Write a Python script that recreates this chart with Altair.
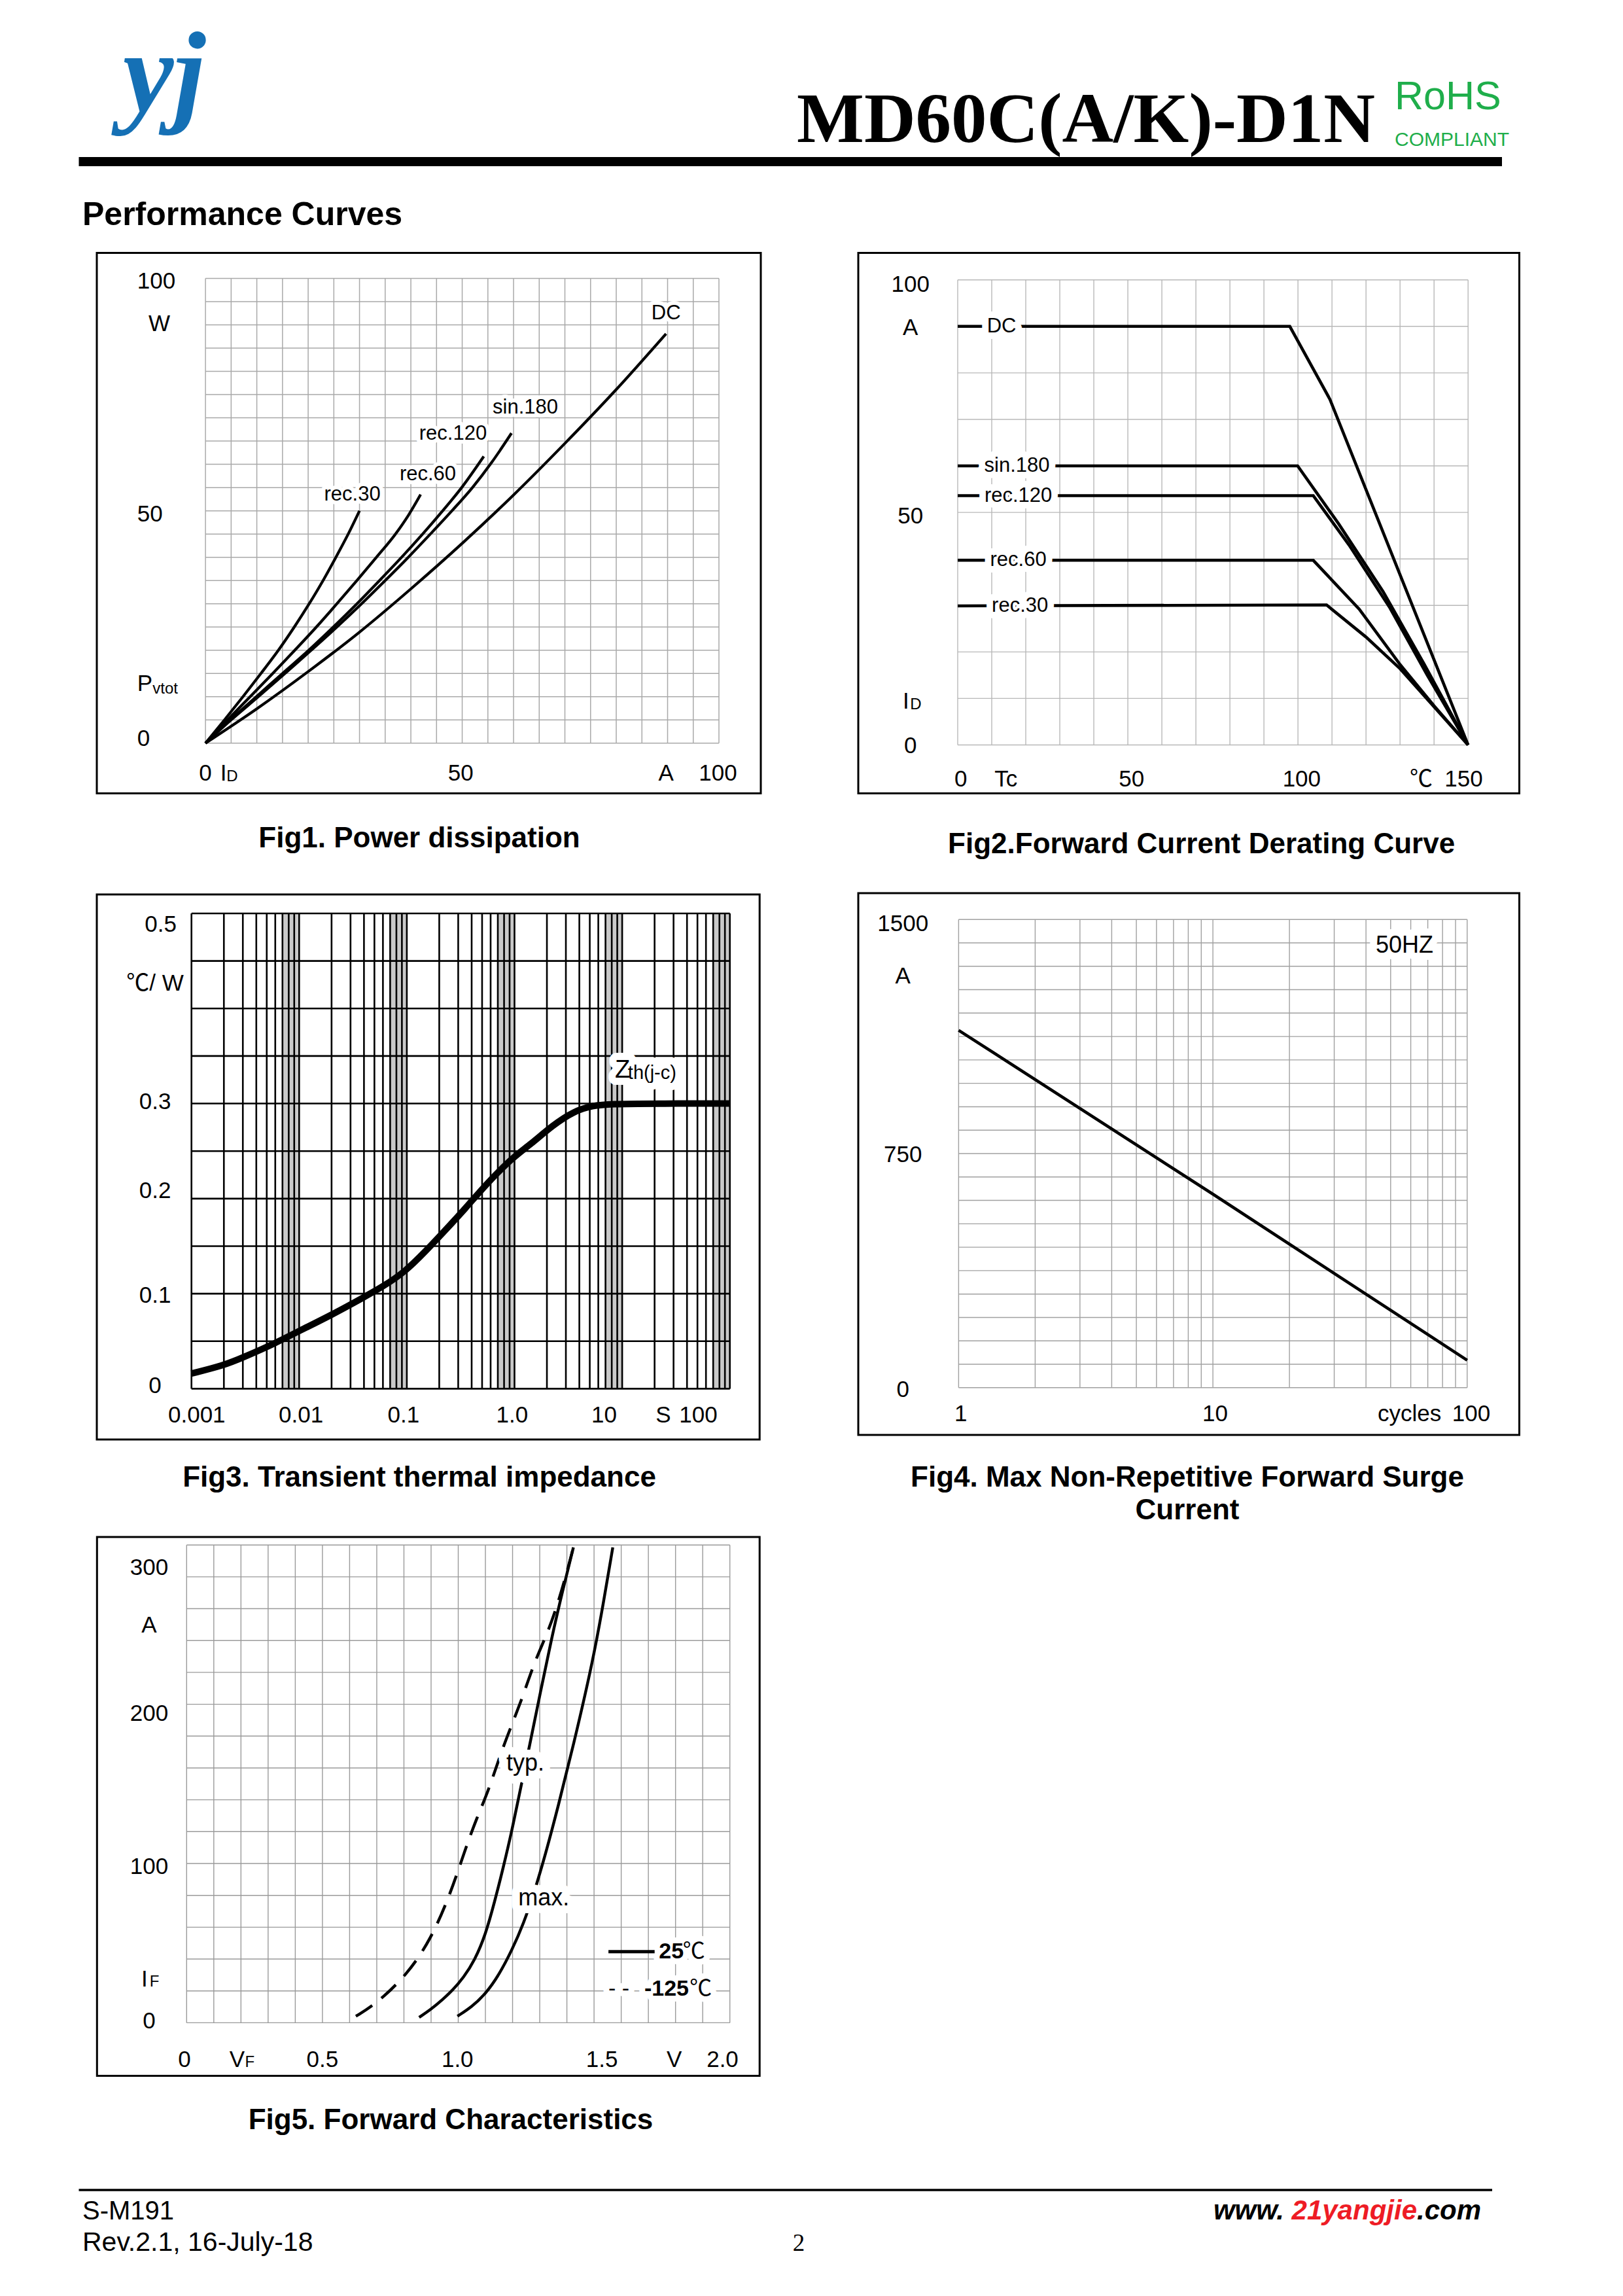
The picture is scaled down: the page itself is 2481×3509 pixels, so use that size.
import math
import altair as alt
import pandas as pd

SANS = "Liberation Sans, Noto Sans CJK SC, DejaVu Sans"
SERIF = "Liberation Serif"

# ---------------- Fig1: Power dissipation  (I_D [A] -> P_vtot [W]) ----------------
f1_dc_i = [0, 10, 20, 30, 40, 50, 60, 70, 80, 89.7]
f1_dc_p = [0, 7.4, 15.4, 23.9, 33.2, 43.0, 53.4, 64.5, 76.1, 88.1]
f1_sin180_i = [0, 5.0, 10.3, 15.5, 20.6, 25.6, 30.4, 35.0, 39.5, 43.8, 48.0, 52.0, 55.8, 59.6]
f1_sin180_p = [0, 5, 10, 15, 20, 25, 30, 35, 40, 45, 50, 55, 60.5, 66.7]
f1_rec120_i = [0, 4.8, 9.9, 15.0, 20.1, 24.9, 29.5, 33.9, 38.2, 42.3, 46.2, 49.9, 54.2]
f1_rec120_p = [0, 5, 10, 15, 20, 25, 30, 35, 40, 45, 50, 55, 61.7]
f1_rec60_i = [0, 4.3, 8.7, 13.1, 17.4, 21.6, 25.6, 29.5, 33.3, 37.0, 39.5, 41.9]
f1_rec60_p = [0, 5, 10, 15, 20, 25, 30, 35, 40, 45, 49.0, 53.5]
f1_rec30_i = [0, 3.7, 7.3, 10.8, 14.2, 17.3, 20.2, 22.9, 25.4, 27.8, 30.0]
f1_rec30_p = [0, 5, 10, 15, 20, 25, 30, 35, 40, 45, 50]
f1_curve_labels = ["DC", "sin.180", "rec.120", "rec.60", "rec.30"]
f1_curve_lab_x = [89.7, 62.3, 48.2, 43.3, 28.6]
f1_curve_lab_y = [92.5, 72.2, 66.6, 57.9, 53.4]
f1_ytick_text = ["100", "W", "50", "0", "P"]
f1_ytick_x = [-13.3, -11.1, -13.3, -13.3, -13.3]
f1_ytick_y = [99.3, 90.2, 49.2, 1.0, 12.8]
f1_xtick_text = ["0", "I", "50", "A", "100"]
f1_xtick_x = [0, 3.5, 49.7, 89.7, 99.8]
f1_sub_text = ["vtot", "D"]
f1_sub_x = [-10.3, 4.1]
f1_sub_y = [11.6, -7.2]

# ---------------- Fig2: Forward current derating (Tc [C] -> I_D [A]) ----------------
f2_dc_t = [0, 97.6, 109.4, 150]
f2_dc_i = [90, 90, 74.3, 0]
f2_sin180_t = [0, 99.9, 112, 125, 137, 150]
f2_sin180_i = [60, 60, 47.5, 33, 17.5, 0]
f2_rec120_t = [0, 104.5, 115, 127, 138, 150]
f2_rec120_i = [53.6, 53.6, 43, 29.5, 15, 0]
f2_rec60_t = [0, 104.5, 118, 130, 140, 150]
f2_rec60_i = [39.7, 39.7, 29.2, 17.3, 8.4, 0]
f2_rec30_t = [0, 108.4, 120, 130, 140, 150]
f2_rec30_i = [29.9, 30.1, 23.2, 16.4, 8.2, 0]
f2_curve_labels = ["DC", "sin.180", "rec.120", "rec.60", "rec.30"]
f2_curve_lab_t = [12.9, 17.4, 17.8, 17.8, 18.3]
f2_curve_lab_i = [90, 60, 53.6, 39.7, 29.9]
f2_ytick_text = ["100", "A", "50", "0", "I"]
f2_ytick_t = [-13.9, -13.9, -13.9, -13.9, -15.2]
f2_ytick_i = [99.0, 89.7, 49.2, -0.2, 9.3]
f2_xtick_text = ["0", "Tc", "50", "100", "\u2103", "150"]
f2_xtick_t = [0.9, 14.2, 51.1, 101.1, 136.2, 148.7]
f2_sub_text = ["D"]
f2_sub_t = [-14.0]
f2_sub_i = [8.6]

# ---------------- Fig3: Transient thermal impedance (t [s] -> Zth [C/W]) ----------------
f3_t = [0.001, 0.002, 0.003, 0.006, 0.01, 0.02, 0.04, 0.06, 0.095, 0.15, 0.22, 0.35,
        0.55, 0.97, 1.4, 2.26, 3.6, 5.3, 7.7, 20, 100]
f3_z = [0.016, 0.0246, 0.0328, 0.0478, 0.0608, 0.0776, 0.0963, 0.1075, 0.1224, 0.1448,
        0.165, 0.1896, 0.2157, 0.2437, 0.2567, 0.2772, 0.2922, 0.2978, 0.2996, 0.3, 0.3]
f3_band_lo = [0.007, 0.07, 0.7, 7, 70]
f3_band_hi = [0.01, 0.1, 1, 10, 100]
f3_ytick_text = ["0.5", "\u2103/ W", "0.3", "0.2", "0.1", "0"]
f3_ytick_x = [5.17e-4, 4.59e-4, 4.59e-4, 4.59e-4, 4.59e-4, 4.59e-4]
f3_ytick_y = [0.488, 0.4265, 0.3015, 0.208, 0.098, 0.003]
f3_xtick_text = ["0.001", "0.01", "0.1", "1.0", "10", "S", "100"]
f3_xtick_x = [1.12e-3, 0.0104, 0.0931, 0.951, 6.8, 24.1, 50.9]
f3_zlab_text = ["Z", "th(j-c)"]
f3_zlab_x = [8.56, 11.3]
f3_zlab_y = [0.335, 0.332]
f3_zlab_size = [38, 29]

# ---------------- Fig4: Max non-repetitive surge current (cycles -> A) ----------------
f4_cycles = [1, 10, 100]
f4_amps = [1145, 620, 88]
f4_ytick_text = ["1500", "A", "750", "0"]
f4_ytick_y = [1484.9, 1318, 746.6, -5.7]
f4_xtick_text = ["1", "10", "cycles", "100"]
f4_xtick_x = [1.02, 10.2, 59.3, 103.7]

# ---------------- Fig5: Forward characteristics (V_F [V] -> I_F [A]) ----------------
f5_typ25_v = [0.856, 0.90, 0.94, 0.98, 1.02, 1.06, 1.10, 1.134, 1.166, 1.198, 1.223, 1.263,
              1.303, 1.344, 1.384, 1.424]
f5_typ25_i = [3.4, 8.5, 14.2, 20.5, 28.5, 39.0, 55.0, 76.0, 97.6, 121.0, 142.0, 174.2,
              208.0, 241.8, 271.1, 298.5]
f5_max25_v = [0.997, 1.05, 1.10, 1.15, 1.198, 1.24, 1.28, 1.32, 1.368, 1.424, 1.489, 1.527, 1.569]
f5_max25_i = [4.1, 10.0, 18.0, 30.0, 45.7, 62.0, 82.0, 105.0, 135.9, 174.2, 222.0, 256.0, 298.5]
f5_typ125_v = [0.623, 0.698, 0.811, 0.900, 0.973, 1.021, 1.069, 1.110, 1.166, 1.231, 1.279,
               1.327, 1.360, 1.392, 1.424]
f5_typ125_i = [4.1, 11.9, 30.0, 52.5, 81.8, 106.6, 129.1, 144.9, 174.2, 201.2, 226.0,
               244.0, 259.8, 277.8, 298.5]
f5_ytick_text = ["300", "A", "200", "100", "0", "I"]
f5_ytick_v = [-0.138, -0.138, -0.138, -0.138, -0.138, -0.155]
f5_ytick_i = [285.5, 249.4, 193.9, 98.1, 0.8, 27.2]
f5_xtick_text = ["0", "V", "0.5", "1.0", "1.5", "V", "2.0"]
f5_xtick_v = [-0.008, 0.186, 0.5, 0.997, 1.529, 1.795, 1.973]
f5_sub_text = ["F", "F"]
f5_sub_v = [-0.136, 0.2146]
f5_sub_i = [25.5, -25.0]
f5_leg_line_v = [1.553, 1.723]
f5_leg_y = [44.6, 21.0]

# ---------------- helpers ----------------
def lin_dom(d0, p0, d1, p1, q0, q1):
    k = (d1 - d0) / (p1 - p0)
    return [d0 + (q0 - p0) * k, d0 + (q1 - p0) * k]


def log_dom(d0, p0, d1, p1, q0, q1):
    a, b = lin_dom(math.log10(d0), p0, math.log10(d1), p1, q0, q1)
    return [10 ** a, 10 ** b]


def sc(dom, log=False):
    if log:
        return alt.Scale(type="log", domain=dom, nice=False)
    return alt.Scale(domain=dom, nice=False, zero=False)


def X(f, s):
    return alt.X(f, type="quantitative", scale=s, axis=None)


def Y(f, s):
    return alt.Y(f, type="quantitative", scale=s, axis=None)


def vgrid(vals, lo, hi, xs, ys, color, w):
    df = pd.DataFrame({"v": vals, "lo": lo, "hi": hi})
    return alt.Chart(df).mark_rule(color=color, strokeWidth=w).encode(
        x=X("v", xs), y=Y("lo", ys), y2="hi")


def hgrid(vals, lo, hi, xs, ys, color, w):
    df = pd.DataFrame({"v": vals, "lo": lo, "hi": hi})
    return alt.Chart(df).mark_rule(color=color, strokeWidth=w).encode(
        y=Y("v", ys), x=X("lo", xs), x2="hi")


def curve(xv, yv, xs, ys, w, dash=None, interp="linear"):
    df = pd.DataFrame({"x": xv, "y": yv, "i": list(range(len(xv)))})
    kw = dict(color="black", strokeWidth=w, interpolate=interp)
    if dash:
        kw["strokeDash"] = dash
    return alt.Chart(df).mark_line(**kw).encode(
        x=X("x", xs), y=Y("y", ys), order=alt.Order("i", type="quantitative"))


def lab(xv, yv, labels, xs, ys, size, align="center", weight="normal", halo=0,
        font=SANS, baseline="middle", sizes=None):
    """Returns (halo_layers, text_layers)."""
    d = {"x": xv, "y": yv, "t": labels}
    if sizes is not None:
        d["fs"] = sizes
    df = pd.DataFrame(d)
    enc = dict(x=X("x", xs), y=Y("y", ys), text="t:N")
    if sizes is not None:
        enc["size"] = alt.Size("fs:Q", scale=None, legend=None)
    base = alt.Chart(df).encode(**enc)
    kw = dict(font=font, fontSize=size, align=align, baseline=baseline, fontWeight=weight)
    h = []
    if halo:
        h.append(base.mark_text(color="white", stroke="white", strokeWidth=halo,
                                strokeJoin="round", **kw))
    return h, [base.mark_text(color="black", **kw)]


def ptext(x, y, t, size, align="left", baseline="alphabetic", weight="normal",
          color="black", font=SANS, style="normal"):
    return alt.Chart(pd.DataFrame({"t": [t]})).mark_text(
        font=font, fontSize=size, align=align, baseline=baseline, fontWeight=weight,
        fontStyle=style, color=color).encode(x=alt.value(x), y=alt.value(y), text="t:N")


def frame(x0, y0, x1, y1, w=3):
    return alt.Chart(pd.DataFrame({"a": [0]})).mark_rect(
        fillOpacity=0, stroke="black", strokeWidth=w).encode(
        x=alt.value(x0), x2=alt.value(x1), y=alt.value(y0), y2=alt.value(y1))


def hbar(x0, x1, y, w):
    return alt.Chart(pd.DataFrame({"a": [0]})).mark_rule(color="black", strokeWidth=w).encode(
        x=alt.value(x0), x2=alt.value(x1), y=alt.value(y))


def merge(*pairs):
    hs, fs = [], []
    for h, f in pairs:
        hs += h
        fs += f
    return hs + fs


TICK = 35
LAB = 31
SUB = 24
CAP = 44

# ---------------- header ----------------
header = alt.layer(
    ptext(243, 162, "yj", 175, align="center", weight="bold", style="italic",
          color="#1570b5", font=SERIF),
    ptext(1210, 209, "MD60C(A/K)-D1N", 109, weight="bold", font=SERIF),
    ptext(2124, 159, "RoHS", 61, color="#1fae4b"),
    ptext(2124, 215, "COMPLIANT", 30, color="#1fae4b"),
    hbar(112.5, 2288, 239, 14),
    ptext(118, 336, "Performance Curves", 50, weight="bold"),
).properties(width=2465, height=362)

# ---------------- fig1 ----------------
xs1 = sc(lin_dom(0, 314.1, 100, 1099.0, 8, 1237))
ys1 = sc(lin_dom(0, 1135.8, 100, 425.5, 1360, 370))
GRID1 = "#a9a9a9"
l1 = [vgrid(list(range(0, 101, 5)), 0, 100, xs1, ys1, GRID1, 1.5),
      hgrid(list(range(0, 101, 5)), 0, 100, xs1, ys1, GRID1, 1.5)]
for xi, yi in [(f1_dc_i, f1_dc_p), (f1_sin180_i, f1_sin180_p), (f1_rec120_i, f1_rec120_p),
               (f1_rec60_i, f1_rec60_p), (f1_rec30_i, f1_rec30_p)]:
    l1.append(curve(xi, yi, xs1, ys1, 4.2, interp="monotone"))
l1 += merge(
    lab(f1_curve_lab_x, f1_curve_lab_y, f1_curve_labels, xs1, ys1, LAB, halo=12),
    lab(f1_ytick_x, f1_ytick_y, f1_ytick_text, xs1, ys1, TICK, align="left"),
    lab(f1_xtick_x, [-6.5] * len(f1_xtick_x), f1_xtick_text, xs1, ys1, TICK),
    lab(f1_sub_x, f1_sub_y, f1_sub_text, xs1, ys1, SUB, align="left"),
)
l1.append(frame(140, 16.6, 1155, 842.5))
l1.append(ptext(633, 912, "Fig1. Power dissipation", CAP, align="center",
                baseline="middle", weight="bold"))
fig1 = alt.layer(*l1).properties(width=1229, height=990)

# ---------------- fig2 ----------------
xs2 = sc(lin_dom(0, 1464.0, 150, 2244.2, 1237, 2473))
ys2 = sc(lin_dom(0, 1138.5, 100, 427.7, 1360, 370))
GRID2 = "#b8b8b8"
l2 = [vgrid(list(range(0, 151, 10)), 0, 100, xs2, ys2, GRID2, 1.4),
      hgrid(list(range(0, 101, 10)), 0, 150, xs2, ys2, GRID2, 1.4)]
for xi, yi in [(f2_dc_t, f2_dc_i), (f2_sin180_t, f2_sin180_i), (f2_rec120_t, f2_rec120_i),
               (f2_rec60_t, f2_rec60_i), (f2_rec30_t, f2_rec30_i)]:
    l2.append(curve(xi, yi, xs2, ys2, 4.6))
l2 += merge(
    lab(f2_curve_lab_t, f2_curve_lab_i, f2_curve_labels, xs2, ys2, LAB, halo=20),
    lab(f2_ytick_t, f2_ytick_i, f2_ytick_text, xs2, ys2, TICK),
    lab(f2_xtick_t, [-7.33] * len(f2_xtick_t), f2_xtick_text, xs2, ys2, TICK),
    lab(f2_sub_t, f2_sub_i, f2_sub_text, xs2, ys2, SUB, align="left"),
)
l2.append(frame(75, 16.6, 1085.5, 842.5))
l2.append(ptext(599.6, 921, "Fig2.Forward Current Derating Curve", CAP, align="center",
                baseline="middle", weight="bold"))
fig2 = alt.layer(*l2).properties(width=1236, height=990)

# ---------------- fig3 ----------------
xs3 = sc(log_dom(0.001, 292.7, 100, 1115.7, 8, 1237), log=True)
ys3 = sc(lin_dom(0, 2122.4, 0.5, 1396.0, 2335, 1360))
f3_vlines = [m * 10.0 ** k for k in range(-3, 2) for m in range(1, 10)] + [100]
f3_hlines = [round(0.05 * j, 2) for j in range(11)]
bands = alt.Chart(pd.DataFrame({"lo": f3_band_lo, "hi": f3_band_hi, "b": 0, "t": 0.5})).mark_rect(
    color="#c9c9c9").encode(x=X("lo", xs3), x2="hi", y=Y("b", ys3), y2="t")
l3 = [bands,
      vgrid(f3_vlines, 0, 0.5, xs3, ys3, "black", 2.6),
      hgrid(f3_hlines, 0.001, 100, xs3, ys3, "black", 2.6),
      curve(f3_t, f3_z, xs3, ys3, 10, interp="basis")]
l3 += merge(
    lab(f3_zlab_x, f3_zlab_y, f3_zlab_text, xs3, ys3, 30, align="left", halo=22,
        sizes=f3_zlab_size),
    lab(f3_ytick_x, f3_ytick_y, f3_ytick_text, xs3, ys3, TICK),
    lab(f3_xtick_x, [-0.0277] * len(f3_xtick_x), f3_xtick_text, xs3, ys3, TICK),
)
l3.append(frame(140, 7, 1153.2, 840))
l3.append(ptext(633, 899, "Fig3. Transient thermal impedance", CAP, align="center",
                baseline="middle", weight="bold"))
fig3 = alt.layer(*l3).properties(width=1229, height=975)

# ---------------- fig4 ----------------
xs4 = sc(log_dom(1, 1465.4, 100, 2242.8, 1237, 2473), log=True)
ys4 = sc(lin_dom(0, 2120.8, 1500, 1405.2, 2335, 1360))
f4_vlines = [m * 10.0 ** k for k in range(0, 2) for m in range(1, 10)] + [100]
GRID4 = "#a0a0a0"
l4 = [vgrid(f4_vlines, 0, 1500, xs4, ys4, GRID4, 1.4),
      hgrid(list(range(0, 1501, 75)), 1, 100, xs4, ys4, GRID4, 1.4),
      curve(f4_cycles, f4_amps, xs4, ys4, 4.6)]
l4 += merge(
    lab([56.7], [1417], ["50HZ"], xs4, ys4, 36, halo=22),
    lab([0.604] * len(f4_ytick_y), f4_ytick_y, f4_ytick_text, xs4, ys4, TICK),
    lab(f4_xtick_x, [-85.3] * len(f4_xtick_x), f4_xtick_text, xs4, ys4, TICK),
)
l4.append(frame(75, 5, 1085.5, 832.9))
l4.append(ptext(578, 899, "Fig4. Max Non-Repetitive Forward Surge", CAP, align="center",
                baseline="middle", weight="bold"))
l4.append(ptext(578, 948.6, "Current", CAP, align="center", baseline="middle", weight="bold"))
fig4 = alt.layer(*l4).properties(width=1236, height=975)

# ---------------- fig5 ----------------
xs5 = sc(lin_dom(0, 285.3, 2, 1115.7, 8, 2473))
ys5 = sc(lin_dom(0, 3091.4, 300, 2361.2, 3300, 2335))
GRID5 = "#9a9a9a"
l5 = [vgrid([round(0.1 * j, 1) for j in range(21)], 0, 300, xs5, ys5, GRID5, 1.4),
      hgrid(list(range(0, 301, 20)), 0, 2, xs5, ys5, GRID5, 1.4),
      curve(f5_typ125_v, f5_typ125_i, xs5, ys5, 4.4, dash=[30, 18], interp="basis"),
      curve(f5_typ25_v, f5_typ25_i, xs5, ys5, 4.4, interp="basis"),
      curve(f5_max25_v, f5_max25_i, xs5, ys5, 4.4, interp="basis")]
h_typ, t_typ = lab([1.247, 1.315], [162.9, 78.4], ["typ.", "max."], xs5, ys5, 36, halo=24)
h_a, t_a = lab([1.739, 1.685], f5_leg_y, ["25", "-125"], xs5, ys5, 34, align="left",
               weight="bold", halo=18)
h_b, t_b = lab([1.827, 1.852, 1.553], [44.6, 21.0, 21.0], ["\u2103", "\u2103", "- -"], xs5, ys5,
               34, align="left", halo=18)
leg_line = alt.Chart(pd.DataFrame({"lo": [f5_leg_line_v[0]], "hi": [f5_leg_line_v[1]],
                                   "y": [f5_leg_y[0]]})).mark_rule(
    color="black", strokeWidth=5).encode(x=X("lo", xs5), x2="hi", y=Y("y", ys5))
l5 += h_typ + h_a + h_b + [leg_line] + t_typ + t_a + t_b
l5 += merge(
    lab(f5_ytick_v, f5_ytick_i, f5_ytick_text, xs5, ys5, TICK),
    lab(f5_xtick_v, [-23.3] * len(f5_xtick_v), f5_xtick_text, xs5, ys5, TICK),
    lab(f5_sub_v, f5_sub_i, f5_sub_text, xs5, ys5, SUB, align="left"),
)
l5.append(frame(140.3, 14, 1153.2, 837.6))
l5.append(ptext(681, 906, "Fig5. Forward Characteristics", CAP, align="center",
                baseline="middle", weight="bold"))
fig5 = alt.layer(*l5).properties(width=2465, height=965)

# ---------------- footer ----------------
footer = alt.layer(
    hbar(112.5, 2273, 47, 3.5),
    ptext(118, 91.7, "S-M191", 40),
    ptext(118, 140, "Rev.2.1, 16-July-18", 41),
    ptext(1213, 140, "2", 37, align="center", font=SERIF),
    ptext(1955, 91.7, "www.", 42, align="right", weight="bold", style="italic"),
    ptext(2158, 91.7, "21yangjie", 42, align="right", weight="bold", style="italic",
          color="#ee1c25"),
    ptext(2256, 91.7, ".com", 42, align="right", weight="bold", style="italic"),
).properties(width=2465, height=200)

chart = alt.vconcat(
    header,
    alt.hconcat(fig1, fig2, spacing=0),
    alt.hconcat(fig3, fig4, spacing=0),
    fig5,
    footer,
    spacing=0,
).properties(padding=0, background="white").configure_view(strokeWidth=0)

chart.save("out.html", embed_options={"renderer": "svg", "actions": False})
